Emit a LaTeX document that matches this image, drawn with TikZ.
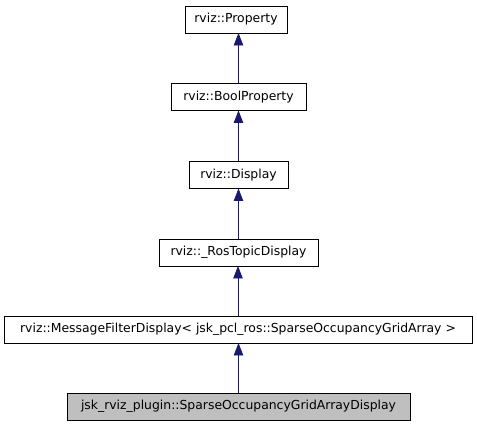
\documentclass[tikz,border=0pt]{standalone}
\usepackage{fontspec}
\setmainfont{DejaVu Sans}
\usetikzlibrary{arrows.meta}
\definecolor{midnightblue}{HTML}{191970}
\definecolor{graybox}{HTML}{BFBFBF}
\begin{document}
\begin{tikzpicture}[x=1pt,y=-1pt]

\tikzstyle{classbox} = [draw,line width=0.8pt,outer sep=0,inner sep=1,minimum height=27,font=\fontsize{12.4}{14}\selectfont]
\tikzstyle{inherit} = [midnightblue,line width=0.8pt,-{Triangle[length=12.5pt,width=9.5pt]}]

\useasboundingbox (0,0) rectangle (477,427);

\node [classbox,minimum width=102] (prop) at (236,19.5) {rviz::Property};
\node [classbox,minimum width=135] (boolprop) at (238.5,97) {rviz::BoolProperty};
\node [classbox,minimum width=99] (disp) at (238.5,175) {rviz::Display};
\node [classbox,minimum width=159] (rostopic) at (238.5,252.5) {rviz::\_RosTopicDisplay};
\node [classbox,minimum width=468] (msgfilter) at (238,329.5) {rviz::MessageFilterDisplay< jsk\_pcl\_ros::SparseOccupancyGridArray >};
\node [classbox,fill=graybox,minimum width=343] (gridarr) at (238.5,406.5) {jsk\_rviz\_plugin::SparseOccupancyGridArrayDisplay};

\draw [inherit] (boolprop) -- (boolprop |- prop.south);
\draw [inherit] (disp) -- (disp |- boolprop.south);
\draw [inherit] (rostopic) -- (rostopic |- disp.south);
\draw [inherit] (msgfilter) -- (msgfilter |- rostopic.south);
\draw [inherit] (gridarr) -- (gridarr |- msgfilter.south);
\end{tikzpicture}
\end{document}
